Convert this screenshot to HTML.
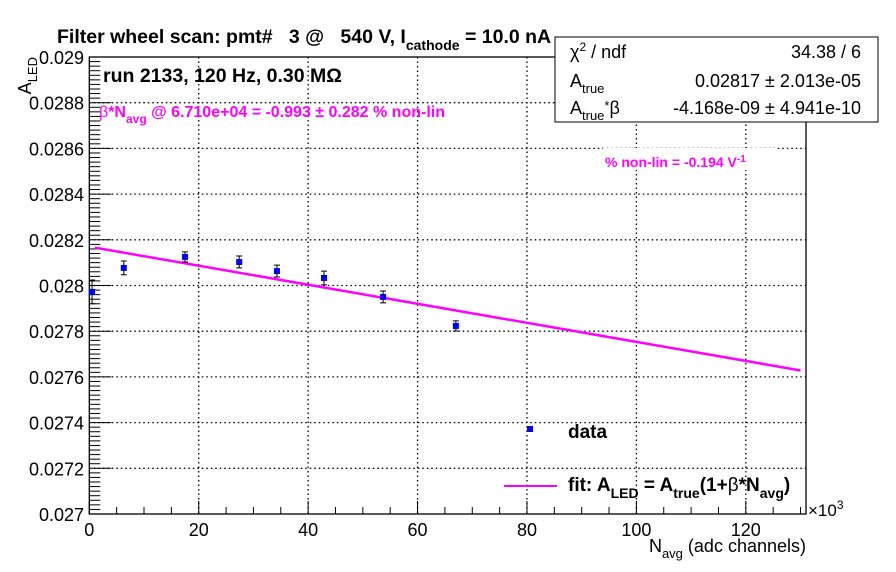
<!DOCTYPE html>
<html><head><meta charset="utf-8"><style>
body{margin:0;background:#fff;}
svg{display:block;font-family:"Liberation Sans",Arial,sans-serif;}
</style></head><body>
<svg id="chart" width="896" height="572" viewBox="0 0 896 572" xmlns="http://www.w3.org/2000/svg">
<rect width="896" height="572" fill="#fff"/>
<g id="grid"></g>
<g id="axes"></g>
<g id="marks"></g>
<text x="57" y="43" font-size="19.5" font-weight="bold">Filter wheel scan: pmt#&#160;&#160; 3 @&#160;&#160; 540 V, I<tspan dy="7" font-size="14">cathode</tspan><tspan dy="-7"> = 10.0 nA</tspan></text>
<text x="103" y="82" font-size="19.5" font-weight="bold">run 2133, 120 Hz, 0.30 MΩ</text>
<text x="99" y="117" font-size="16" font-weight="bold" fill="#ff00ff"><tspan font-weight="normal">β</tspan>*N<tspan dy="6" font-size="12">avg</tspan><tspan dy="-6"> @ 6.710e+04 = -0.993 ± 0.282 % non-lin</tspan></text>
<rect x="603" y="148" width="172" height="22" fill="#fff"/>
<text x="605" y="167" font-size="14" font-weight="bold" fill="#ff00ff">% non-lin = -0.194 V<tspan dy="-5" font-size="10">-1</tspan></text>
<g>
<rect x="555" y="37" width="323" height="85" fill="#fff" stroke="#000" stroke-width="1"/>
<text x="570" y="58" font-size="18">χ<tspan dy="-7" font-size="12">2</tspan><tspan dy="7"> / ndf</tspan></text>
<text x="861" y="58" font-size="18" text-anchor="end">34.38 / 6</text>
<text x="570" y="87" font-size="18">A<tspan dy="6" font-size="13">true</tspan></text>
<text x="861" y="87" font-size="18" text-anchor="end">0.02817 ± 2.013e-05</text>
<text x="570" y="114" font-size="18">A<tspan dy="6" font-size="13">true</tspan><tspan dy="-10" font-size="13">*</tspan><tspan dy="4">β</tspan></text>
<text x="861" y="114" font-size="18" text-anchor="end">-4.168e-09 ± 4.941e-10</text>
</g>
<g>
<rect x="527" y="426" width="6" height="6" fill="#0000ff"/>
<text x="568" y="438" font-size="19" font-weight="bold">data</text>
<line x1="504" y1="486" x2="557" y2="486" stroke="#ff00ff" stroke-width="2"/>
<text x="568" y="491" font-size="19" font-weight="bold">fit: A<tspan dy="7" font-size="14">LED</tspan><tspan dy="-7"> = A</tspan><tspan dy="7" font-size="14">true</tspan><tspan dy="-7">(1+</tspan><tspan font-weight="normal">β</tspan>*N<tspan dy="7" font-size="14">avg</tspan><tspan dy="-7">)</tspan></text>
</g>
<text x="806" y="552" font-size="18" text-anchor="end">N<tspan dy="6" font-size="13">avg</tspan><tspan dy="-6"> (adc channels)</tspan></text>
<text x="808" y="516" font-size="17">×10<tspan dy="-7" font-size="12">3</tspan></text>
<text transform="translate(31,57) rotate(-90)" font-size="18" text-anchor="end">A<tspan dy="6" font-size="13">LED</tspan></text>
</svg>
<script>
const xData = [0.5, 6.3, 17.5, 27.4, 34.3, 42.9, 53.7, 67.0];
const yData = [0.027972, 0.028077, 0.028125, 0.028103, 0.028063, 0.028033, 0.027950, 0.027823];
const yErr = [0.000052, 0.000030, 0.000022, 0.000026, 0.000026, 0.000030, 0.000026, 0.000022];
const fitA = 0.02817;
const fitSlope = -4.168e-6;
const fitRange = [1, 130];
const xTicks = [0, 20, 40, 60, 80, 100, 120];
const yTicks = [0.027, 0.0272, 0.0274, 0.0276, 0.0278, 0.028, 0.0282, 0.0284, 0.0286, 0.0288, 0.029];
const yTickLabels = ["0.027","0.0272","0.0274","0.0276","0.0278","0.028","0.0282","0.0284","0.0286","0.0288","0.029"];

const L=89.3, R=806, T=57, B=514, XMIN=0, XMAX=131, YMIN=0.027, YMAX=0.029;
const sx = v => L + (v - XMIN) / (XMAX - XMIN) * (R - L);
const sy = v => B - (v - YMIN) / (YMAX - YMIN) * (B - T);
const NS = "http://www.w3.org/2000/svg";
function mk(tag, attrs, parent){const e=document.createElementNS(NS,tag);for(const k in attrs)e.setAttribute(k,attrs[k]);parent.appendChild(e);return e;}
const grid=document.getElementById('grid'), axes=document.getElementById('axes'), marks=document.getElementById('marks');

xTicks.forEach(t=>{ if(t>0){ const g=mk('line',{x1:sx(t),x2:sx(t),y1:T,y2:B,stroke:'#000','stroke-width':1.3,'stroke-dasharray':'1.5,3'},grid);

}});
yTicks.forEach(t=>{ if(t>YMIN+1e-9 && t<YMAX-1e-9){ const g=mk('line',{x1:L,x2:R,y1:sy(t),y2:sy(t),stroke:'#000','stroke-width':1.3,'stroke-dasharray':'1.5,3'},grid);

}});

const frame=mk('rect',{x:L,y:T,width:R-L,height:B-T,fill:'none',stroke:'#000','stroke-width':1.3},axes);


for(let v=0; v<=XMAX; v+=5){ const len = v%20===0?13:7; mk('line',{x1:sx(v),x2:sx(v),y1:B,y2:B-len,stroke:'#000'},axes); }
xTicks.forEach(t=>{ const tx=mk('text',{x:sx(t),y:536,'font-size':18,'text-anchor':'middle'},axes); tx.textContent=t;

});
for(let i=0;i<=100;i++){ const v=YMIN+i*0.00002; const len = i%10===0?22:11; mk('line',{x1:L,x2:L+len,y1:sy(v),y2:sy(v),stroke:'#000'},axes); }
yTicks.forEach((t,i)=>{ const tx=mk('text',{x:84,y:sy(t)+7,'font-size':18,'text-anchor':'end'},axes); tx.textContent=yTickLabels[i];

});

const fit=mk('line',{x1:sx(fitRange[0]),y1:sy(fitA+fitSlope*fitRange[0]),x2:sx(fitRange[1]),y2:sy(fitA+fitSlope*fitRange[1]),stroke:'#ff00ff','stroke-width':2.5},marks);



xData.forEach((x,i)=>{
  const px=sx(x), py=sy(yData[i]);
  if(yErr[i]>0){
    const e=mk('path',{d:`M${px},${sy(yData[i]+yErr[i])}V${sy(yData[i]-yErr[i])}M${px-3},${sy(yData[i]+yErr[i])}H${px+3}M${px-3},${sy(yData[i]-yErr[i])}H${px+3}`,stroke:'#000','stroke-width':1,fill:'none'},marks);
    
    
  }
  const p=mk('rect',{x:px-3,y:py-3,width:6,height:6,fill:'#0000ff'},marks);
  
  
});
</script>
</body></html>
